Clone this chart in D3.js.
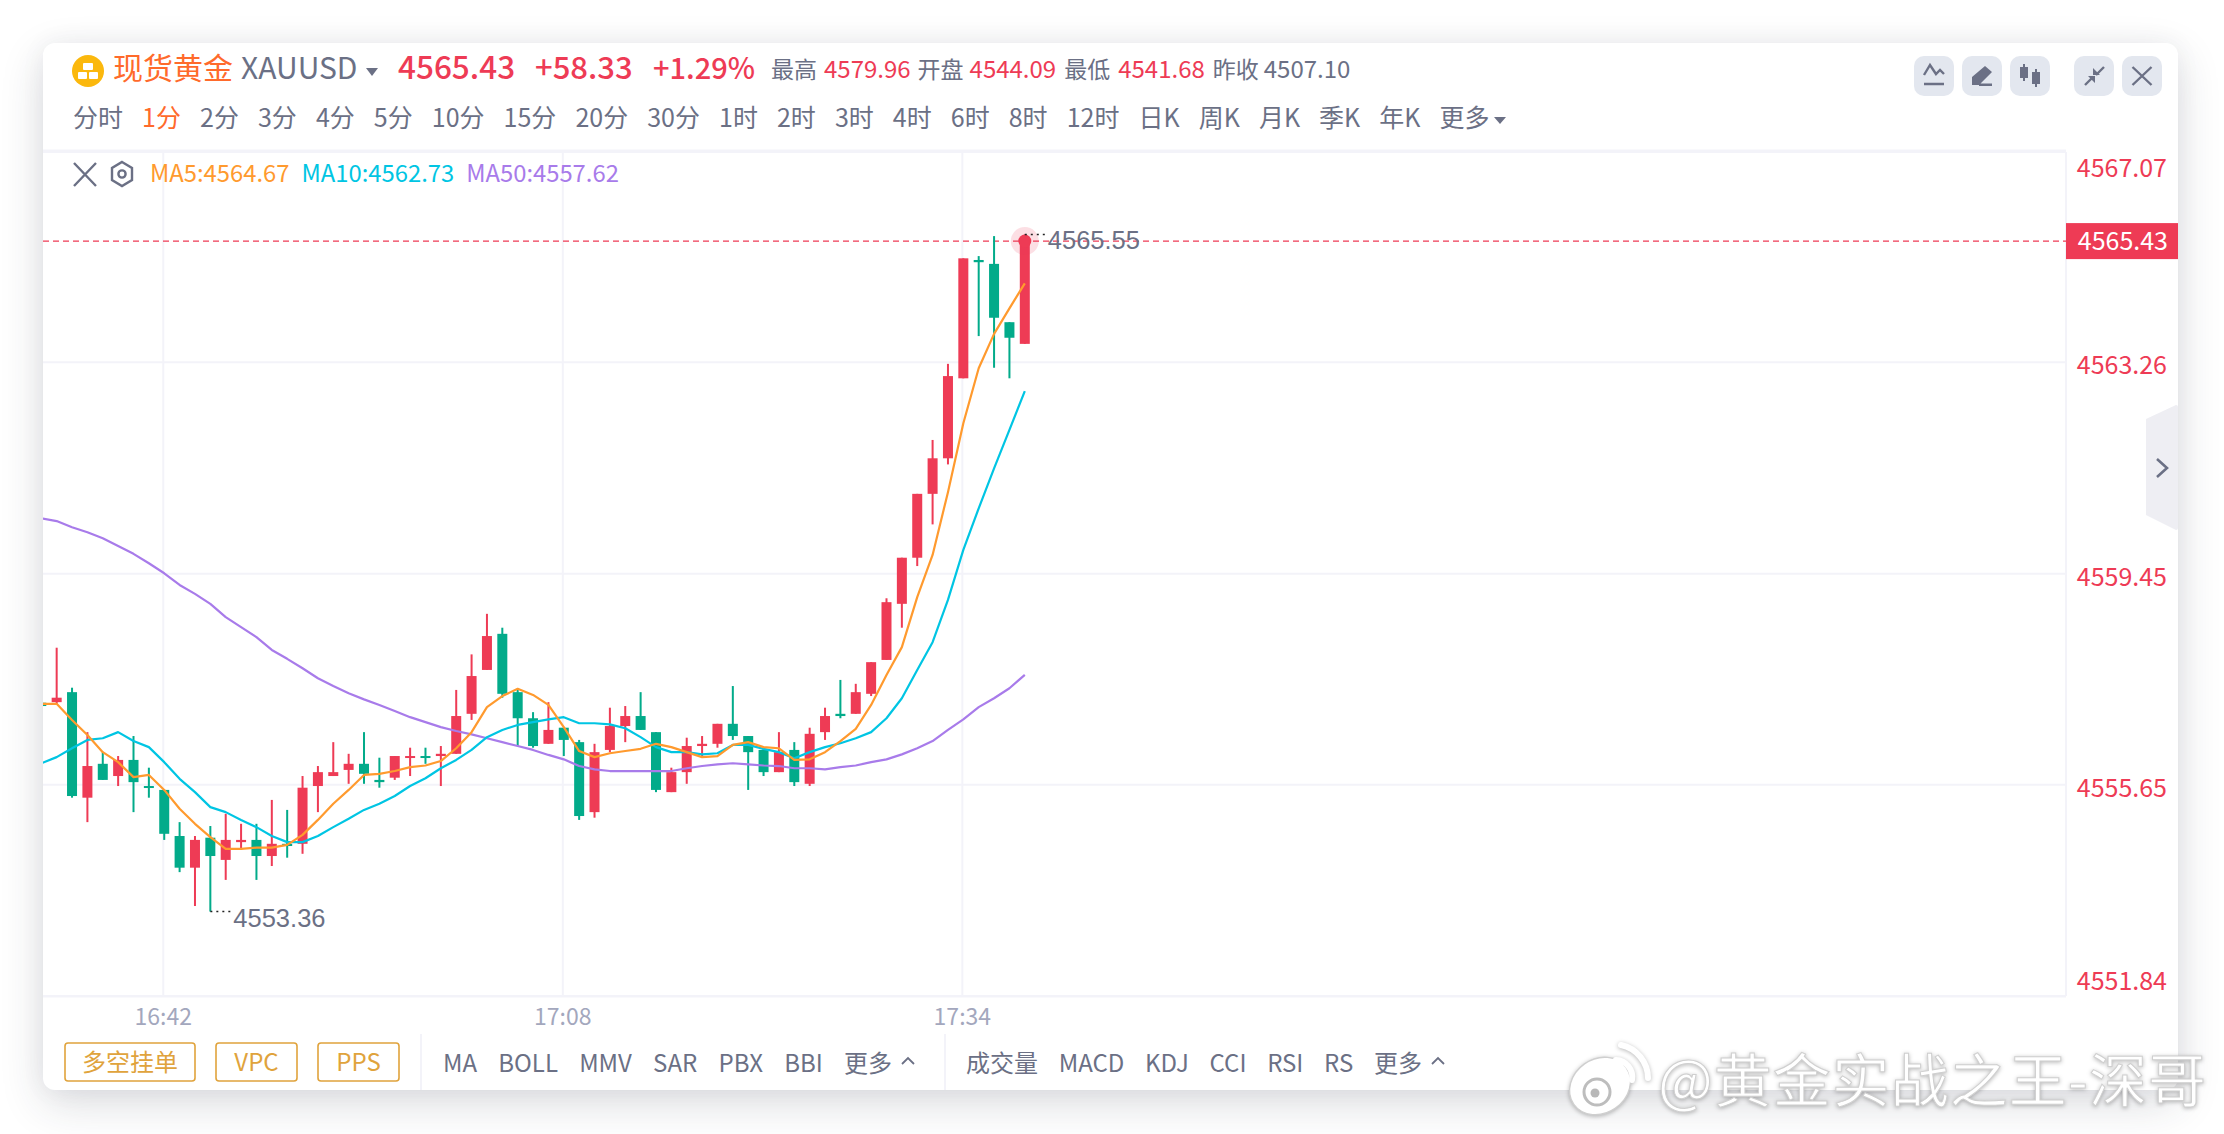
<!DOCTYPE html>
<html>
<head>
<meta charset="utf-8">
<script src="https://cdn.jsdelivr.net/npm/d3@7"></script>
<style>
html, body { margin: 0; padding: 0; background: #fff; }
#card { position: absolute; left: 43px; top: 43px; width: 2135px; height: 1047px; border-radius: 12px; background: #fff;
        box-shadow: 0 14px 44px rgba(40,45,60,.16), 0 0 26px rgba(40,45,60,.05); }
svg { position: absolute; left: 0; top: 0; }
text { font-family: "Noto Sans CJK SC", sans-serif; }
</style>
</head>
<body>
<div id="card"></div>
<svg id="chart" width="2224" height="1134"></svg>
<script>
var times = ["16:34","16:35","16:36","16:37","16:38","16:39","16:40","16:41","16:42","16:43","16:44","16:45","16:46",
             "16:47","16:48","16:49","16:50","16:51","16:52","16:53","16:54","16:55","16:56","16:57","16:58","16:59",
             "17:00","17:01","17:02","17:03","17:04","17:05","17:06","17:07","17:08","17:09","17:10","17:11","17:12",
             "17:13","17:14","17:15","17:16","17:17","17:18","17:19","17:20","17:21","17:22","17:23","17:24","17:25",
             "17:26","17:27","17:28","17:29","17:30","17:31","17:32","17:33","17:34","17:35","17:36","17:37","17:38"];
var opens = [4557.12,4557.13,4557.31,4555.41,4556.02,4555.80,4556.09,4555.62,4555.55,4554.72,4554.15,4554.69,4554.29,
             4554.61,4554.65,4554.36,4554.58,4554.58,4555.62,4555.80,4555.91,4556.02,4555.73,4555.77,4556.13,4556.16,
             4556.16,4556.20,4556.92,4557.71,4558.36,4557.31,4556.84,4556.38,4556.67,4556.41,4555.15,4556.27,4556.70,
             4556.88,4556.59,4555.51,4555.87,4556.34,4556.38,4556.74,4556.52,4556.27,4555.87,4556.27,4555.66,4556.59,
             4556.92,4556.92,4557.28,4557.89,4558.90,4559.73,4560.88,4561.52,4562.96,4565.09,4565.02,4563.97,4563.58];
var closes = [4557.06,4557.21,4555.44,4555.98,4555.73,4556.09,4555.69,4555.59,4554.76,4554.15,4554.65,4554.36,4554.65,
              4554.65,4554.36,4554.58,4554.54,4555.59,4555.87,4555.87,4556.02,4555.84,4555.69,4556.16,4556.16,4556.13,
              4556.20,4556.88,4557.60,4558.32,4557.28,4556.84,4556.34,4556.63,4556.45,4555.08,4556.23,4556.70,4556.88,
              4556.63,4555.55,4555.87,4556.34,4556.38,4556.74,4556.52,4556.23,4555.87,4556.23,4555.69,4556.56,4556.88,
              4556.88,4557.31,4557.85,4558.93,4559.73,4560.88,4561.52,4563.00,4565.12,4565.05,4564.05,4563.69,4565.43];
var highs = [4557.17,4558.11,4557.39,4556.59,4556.23,4556.16,4556.52,4555.95,4555.55,4554.97,4554.72,4554.90,4555.12,
             4554.94,4554.94,4555.37,4555.19,4555.80,4555.98,4556.41,4556.20,4556.59,4556.13,4556.16,4556.31,4556.31,
             4556.34,4557.35,4557.99,4558.72,4558.47,4557.35,4556.95,4557.13,4556.67,4556.45,4556.38,4557.03,4557.06,
             4557.31,4556.59,4555.95,4556.49,4556.52,4556.74,4557.42,4556.52,4556.31,4556.59,4556.41,4556.67,4557.03,
             4557.53,4557.46,4557.85,4559.00,4559.73,4560.88,4561.85,4563.22,4565.12,4565.16,4565.52,4563.97,4565.55];
var lows = [4557.03,4557.10,4555.41,4554.97,4555.73,4555.62,4555.15,4555.41,4554.65,4554.07,4553.46,4553.36,4553.93,
            4554.47,4553.93,4554.18,4554.33,4554.40,4555.15,4555.80,4555.66,4555.66,4555.59,4555.73,4555.80,4556.02,
            4555.62,4556.20,4556.81,4557.71,4557.21,4556.34,4556.31,4556.38,4556.16,4555.01,4555.05,4556.23,4556.41,
            4556.63,4555.51,4555.51,4555.66,4556.14,4556.31,4556.45,4555.55,4555.80,4555.87,4555.62,4555.62,4556.45,
            4556.84,4556.92,4557.24,4557.89,4558.47,4559.58,4560.33,4561.41,4562.96,4563.72,4563.15,4562.96,4563.58];
var ma5 = [4557.10,4557.10,4556.81,4556.54,4556.23,4556.05,4555.78,4555.82,4555.55,4555.21,4554.94,4554.70,4554.49,
           4554.49,4554.51,4554.51,4554.56,4554.74,4555.01,4555.30,4555.55,4555.82,4555.84,4555.89,4555.96,4555.99,
           4556.07,4556.30,4556.59,4557.04,4557.24,4557.37,4557.26,4557.08,4556.68,4556.25,4556.14,4556.21,4556.25,
           4556.29,4556.38,4556.32,4556.23,4556.14,4556.16,4556.36,4556.41,4556.32,4556.30,4556.09,4556.10,4556.23,
           4556.43,4556.65,4557.08,4557.62,4558.12,4559.02,4559.78,4560.91,4562.15,4563.14,4563.76,4564.22,4564.67];
var ma10 = [4556.03,4556.14,4556.30,4556.45,4556.48,4556.59,4556.43,4556.32,4556.05,4555.75,4555.51,4555.24,4555.15,
            4555.01,4554.88,4554.72,4554.61,4554.61,4554.72,4554.88,4555.03,4555.19,4555.30,4555.44,4555.62,4555.76,
            4555.94,4556.09,4556.27,4556.50,4556.63,4556.72,4556.77,4556.82,4556.86,4556.75,4556.75,4556.73,4556.66,
            4556.50,4556.32,4556.23,4556.23,4556.19,4556.21,4556.36,4556.36,4556.29,4556.23,4556.12,4556.23,4556.32,
            4556.39,4556.48,4556.59,4556.84,4557.20,4557.71,4558.21,4558.97,4559.87,4560.62,4561.34,4562.03,4562.73];
var ma50 = [4560.44,4560.39,4560.28,4560.19,4560.08,4559.94,4559.80,4559.63,4559.45,4559.24,4559.08,4558.90,4558.66,
            4558.48,4558.30,4558.07,4557.91,4557.74,4557.56,4557.42,4557.29,4557.18,4557.08,4556.97,4556.86,4556.77,
            4556.68,4556.61,4556.55,4556.48,4556.41,4556.34,4556.27,4556.18,4556.10,4555.98,4555.92,4555.89,4555.89,
            4555.89,4555.89,4555.89,4555.94,4555.98,4556.01,4556.03,4556.01,4555.99,4555.98,4555.94,4555.94,4555.92,
            4555.96,4555.99,4556.05,4556.10,4556.19,4556.30,4556.43,4556.63,4556.82,4557.04,4557.20,4557.38,4557.62];
var priceTicks = [4567.07, 4563.26, 4559.45, 4555.65, 4551.84];
var timeTicks = ["16:42", "17:08", "17:34"];
var lastPrice = 4565.43;
var lowMark = {time: "16:45", price: 4553.36};
var highMark = {time: "17:38", price: 4565.55};

var red = "#ee3b55", green = "#02ab8a", gray = "#6b7085", grid = "#f3f3f9", gold = "#e0a33c";
var plotL = 43, plotR = 2066, plotT = 150, plotB = 996;

var svg = d3.select("#chart");
var x = d3.scalePoint().domain(times).range([41.3, 1024.8]);
var y = d3.scaleLinear().domain([4551.84, 4567.07]).range([plotB, plotT]);

svg.append("clipPath").attr("id", "plot").append("rect")
    .attr("x", plotL).attr("y", plotT).attr("width", plotR - plotL).attr("height", plotB - plotT);

// grid and axes
svg.append("line").attr("x1", plotL).attr("x2", plotR).attr("y1", 152).attr("y2", 152).attr("stroke", grid).attr("stroke-width", 2);
var yAxis = svg.append("g").attr("transform", "translate(" + plotR + ",0)")
    .call(d3.axisLeft(y).tickValues(priceTicks).tickSize(plotR - plotL).tickFormat(d3.format(".2f")));
yAxis.select(".domain").remove();
yAxis.selectAll("line").attr("stroke", grid).attr("stroke-width", 2);
yAxis.selectAll("text").attr("x", 101).attr("text-anchor", "end").attr("fill", red).attr("font-size", 25)
    .attr("dy", function(d, i) { return i == 0 ? 26 : i == 4 ? -7 : 12; });
svg.append("line").attr("x1", plotR).attr("x2", plotR).attr("y1", 152).attr("y2", plotB).attr("stroke", grid).attr("stroke-width", 2);

var xAxis = svg.append("g").attr("transform", "translate(-1.5," + plotB + ")")
    .call(d3.axisBottom(x).tickValues(timeTicks).tickSize(plotT + 2 - plotB).tickPadding(0));
xAxis.select(".domain").remove();
xAxis.selectAll("line").attr("stroke", grid).attr("stroke-width", 2);
xAxis.selectAll("text").attr("y", 13).attr("fill", "#a3a7bd").attr("font-size", 23).attr("text-anchor", "middle");

// current price line
svg.append("line").attr("x1", plotL).attr("x2", plotR).attr("y1", y(lastPrice)).attr("y2", y(lastPrice))
    .attr("stroke", red).attr("stroke-width", 1.4).attr("stroke-dasharray", "6,4");

// candles
var plot = svg.append("g").attr("clip-path", "url(#plot)");
var candle = plot.selectAll("g.candle").data(times).enter().append("g").attr("class", "candle");
candle.append("rect")
    .attr("x", function(d) { return x(d) - 1; }).attr("width", 2)
    .attr("y", function(d, i) { return y(highs[i]); })
    .attr("height", function(d, i) { return y(lows[i]) - y(highs[i]); })
    .attr("fill", function(d, i) { return closes[i] >= opens[i] ? red : green; });
candle.append("rect")
    .attr("x", function(d) { return x(d) - 5; }).attr("width", 10)
    .attr("y", function(d, i) { return y(Math.max(opens[i], closes[i])); })
    .attr("height", function(d, i) { return Math.max(2, Math.abs(y(opens[i]) - y(closes[i]))); })
    .attr("fill", function(d, i) { return closes[i] >= opens[i] ? red : green; });

// moving averages
var maLine = d3.line().x(function(d, i) { return x(times[i]); }).y(function(d) { return y(d); });
[[ma50, "#a87bea"], [ma10, "#00c5e3"], [ma5, "#ff9a2e"]].forEach(function(m) {
    plot.append("path").attr("d", maLine(m[0])).attr("fill", "none").attr("stroke", m[1])
        .attr("stroke-width", 2.2).attr("stroke-linejoin", "round");
});

// last price dot
svg.append("circle").attr("cx", x(highMark.time)).attr("cy", y(lastPrice)).attr("r", 14).attr("fill", red).attr("opacity", .16);
svg.append("circle").attr("cx", x(highMark.time)).attr("cy", y(lastPrice)).attr("r", 6.5).attr("fill", red);

// high and low marks
[lowMark, highMark].forEach(function(m) {
    var mx = x(m.time), my = y(m.price);
    svg.append("line").attr("x1", mx).attr("x2", mx + 20).attr("y1", my).attr("y2", my)
        .attr("stroke", "#222").attr("stroke-width", 1.4).attr("stroke-dasharray", "2,4");
    svg.append("text").attr("x", mx + 23).attr("y", my + 15).text(m.price.toFixed(2))
        .attr("fill", gray).attr("font-size", 25.5).style("font-family", "'Liberation Sans'");
});

// price tag
svg.append("rect").attr("x", plotR).attr("y", y(lastPrice) - 18).attr("width", 112).attr("height", 36).attr("fill", red);
svg.append("text").attr("x", 2168).attr("y", y(lastPrice) + 9).attr("text-anchor", "end").attr("fill", "#fff")
    .attr("font-size", 25).text(lastPrice.toFixed(2));

// lays text out from left to right
function flow(startX, baseY, items) {
    var cx = startX;
    items.forEach(function(it) {
        var t = svg.append("text").attr("x", cx).attr("y", baseY).text(it.t).attr("fill", it.c || gray)
            .attr("font-size", it.s || 24).attr("font-weight", it.w || 400);
        cx += t.node().getComputedTextLength() + (it.g === undefined ? 18 : it.g);
    });
    return cx;
}

// header
svg.append("circle").attr("cx", 88).attr("cy", 71).attr("r", 16).attr("fill", "#fbb80d");
svg.append("rect").attr("x", 83).attr("y", 63).attr("width", 10).attr("height", 7).attr("rx", 1).attr("fill", "#fff");
svg.append("rect").attr("x", 78).attr("y", 72).attr("width", 9).attr("height", 7).attr("rx", 1).attr("fill", "#fff");
svg.append("rect").attr("x", 89).attr("y", 72).attr("width", 9).attr("height", 7).attr("rx", 1).attr("fill", "#fff");
flow(113, 79, [
    {t: "现货黄金", c: "#ff6a2b", s: 30, g: 8},
    {t: "XAUUSD", s: 30}
]);
svg.append("path").attr("d", "M366 68h12l-6 8z").attr("fill", gray);
flow(398, 79, [{t: "4565.43", c: red, s: 31.5, w: 500}]);
flow(535, 79, [{t: "+58.33", c: red, s: 31, w: 500}]);
flow(653, 79, [{t: "+1.29%", c: red, s: 29, w: 500}]);
flow(771, 78, [
    {t: "最高", s: 23, g: 7}, {t: "4579.96", c: red, s: 24, g: 7},
    {t: "开盘", s: 23, g: 6}, {t: "4544.09", c: red, s: 24, g: 8},
    {t: "最低", s: 23, g: 8}, {t: "4541.68", c: red, s: 24, g: 8},
    {t: "昨收", s: 23, g: 5}, {t: "4507.10", s: 24}
]);

// period row
var periods = ["分时","1分","2分","3分","4分","5分","10分","15分","20分","30分","1时","2时","3时","4时","6时","8时","12时","日K","周K","月K","季K","年K","更多"];
flow(73, 127, periods.map(function(p) { return {t: p, c: p == "1分" ? "#ff6a2b" : gray, s: 25, g: 19.05}; }));
svg.append("path").attr("d", "M1494 117h12l-6 7z").attr("fill", gray);

// legend
svg.append("path").attr("d", "M74 163L96 186M96 163L74 186").attr("stroke", gray).attr("stroke-width", 2.4).attr("fill", "none");
svg.append("path").attr("d", "M122 162l10 6v12l-10 6l-10-6v-12z").attr("stroke", gray).attr("stroke-width", 2.4).attr("fill", "none");
svg.append("circle").attr("cx", 122).attr("cy", 174).attr("r", 3.6).attr("stroke", gray).attr("stroke-width", 2.4).attr("fill", "none");
flow(150, 182, [
    {t: "MA5:4564.67", c: "#ff9a2e", s: 23.8, g: 12},
    {t: "MA10:4562.73", c: "#00c5e3", s: 23.8, g: 12},
    {t: "MA50:4557.62", c: "#a87bea", s: 23.8}
]);

// top right buttons
var buttons = [1914, 1962, 2010, 2074, 2122];
buttons.forEach(function(bx) {
    svg.append("rect").attr("x", bx).attr("y", 56).attr("width", 40).attr("height", 40).attr("rx", 10).attr("fill", "#e3e7ef");
});
function icon(bx, d, fill) {
    svg.append("path").attr("transform", "translate(" + bx + ",56)").attr("d", d)
        .attr("fill", fill ? gray : "none").attr("stroke", gray).attr("stroke-width", fill ? 0 : 2.4);
}
icon(1914, "M10 19L16 9L22 18L26 14L30 18M10 28H30");
icon(1962, "M10 29V21L23 10L30 16L17 29zM17 27.5H30V30H17z", true);
icon(2010, "M10 11h8v11h-8zM13 8h2v17h-2zM22 16h8v12h-8zM25 13h2v18h-2z", true);
icon(2074, "M11 29L19 21M30 11L22 19");
icon(2074, "M14 20h7v7zM19 12l7 7h-7z", true);
icon(2122, "M10.5 11L29.5 29M29.5 11L10.5 29");

// side handle
svg.append("path").attr("d", "M2146 419L2176 405Q2178 405 2178 407V528Q2178 530 2176 530L2146 515z").attr("fill", "#eeeef3");
svg.append("path").attr("d", "M2157 459L2167 468L2157 477").attr("fill", "none").attr("stroke", gray).attr("stroke-width", 2.6);

// bottom row
svg.append("line").attr("x1", 43).attr("x2", plotR).attr("y1", plotB).attr("y2", plotB).attr("stroke", grid).attr("stroke-width", 2);
[[65, 130, "多空挂单"], [216, 81, "VPC"], [318, 81, "PPS"]].forEach(function(b) {
    svg.append("rect").attr("x", b[0]).attr("y", 1043).attr("width", b[1]).attr("height", 38).attr("rx", 3)
        .attr("fill", "none").attr("stroke", gold).attr("stroke-width", 1.6);
    svg.append("text").attr("x", b[0] + b[1] / 2).attr("y", 1071).attr("text-anchor", "middle").attr("fill", gold)
        .attr("font-size", 24).text(b[2]);
});
[421, 945].forEach(function(sx) {
    svg.append("line").attr("x1", sx).attr("x2", sx).attr("y1", 1034).attr("y2", 1090).attr("stroke", grid).attr("stroke-width", 2);
});
var indicatorsA = ["MA", "BOLL", "MMV", "SAR", "PBX", "BBI", "更多"];
var indicatorsB = ["成交量", "MACD", "KDJ", "CCI", "RSI", "RS", "更多"];
function caretUp(cx) {
    svg.append("path").attr("d", "M" + (cx - 6) + " 1064L" + cx + " 1058L" + (cx + 6) + " 1064").attr("fill", "none")
        .attr("stroke", gray).attr("stroke-width", 1.8);
}
flow(443, 1072, indicatorsA.map(function(p) { return {t: p, g: 21.2}; }));
caretUp(908);
flow(966, 1072, indicatorsB.map(function(p) { return {t: p, g: 20.7}; }));
caretUp(1438);

// watermark
var wm = svg.append("g").style("filter", "drop-shadow(0 1px 2px rgba(0,0,0,.28))");
wm.append("text").attr("x", 1658).attr("y", 1102).text("@黄金实战之王-深哥").attr("font-size", 58)
    .attr("letter-spacing", 1).attr("fill", "#fff").attr("stroke", "#cfcfcf").attr("stroke-width", 1);
wm.append("ellipse").attr("cx", 1600).attr("cy", 1086).attr("rx", 32).attr("ry", 27).attr("transform", "rotate(-35 1600 1086)")
    .attr("fill", "#fff").attr("stroke", "#cfcfcf").attr("stroke-width", 1.4);
wm.append("circle").attr("cx", 1597).attr("cy", 1092).attr("r", 13).attr("fill", "#fff").attr("stroke", "#bdbdbd").attr("stroke-width", 3);
wm.append("circle").attr("cx", 1595).attr("cy", 1093).attr("r", 4.5).attr("fill", "#b8b8b8");
wm.append("path").attr("d", "M1616 1060A17 17 0 0 1 1632 1080M1621 1045A34 34 0 0 1 1648 1078").attr("fill", "none")
    .attr("stroke", "#fff").attr("stroke-width", 6).attr("stroke-linecap", "round");
</script>
</body>
</html>
